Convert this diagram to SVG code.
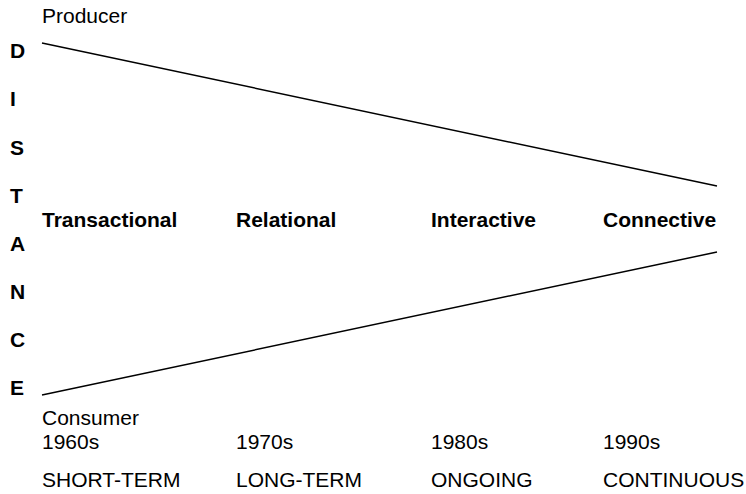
<svg xmlns="http://www.w3.org/2000/svg" width="746" height="494" viewBox="0 0 746 494">
<style>
text { font-family: "Liberation Sans", Arial, sans-serif; fill: #000; }
.r { font-size: 21px; }
.b { font-size: 21px; font-weight: bold; }
line { stroke: #000; stroke-width: 1.5; }
</style>
<rect width="746" height="494" fill="#fff"/>
<g id="connectors">
<line x1="42" y1="43" x2="717" y2="186"/>
<line x1="42" y1="395" x2="717" y2="252"/>
</g>
<g id="axis">
<text class="b" x="10" y="58">D</text>
<text class="b" x="10" y="106">I</text>
<text class="b" x="10" y="155">S</text>
<text class="b" x="10" y="203">T</text>
<text class="b" x="10" y="251">A</text>
<text class="b" x="10" y="299">N</text>
<text class="b" x="10" y="347">C</text>
<text class="b" x="10" y="395">E</text>
</g>
<g id="producer"><text class="r" x="42" y="23">Producer</text></g>
<g id="consumer"><text class="r" x="42" y="425">Consumer</text></g>
<g id="transactional">
<text class="b" x="42" y="227">Transactional</text>
<text class="r" x="42" y="449">1960s</text>
<text class="r" x="42" y="487">SHORT-TERM</text>
</g>
<g id="relational">
<text class="b" x="236" y="227">Relational</text>
<text class="r" x="236" y="449">1970s</text>
<text class="r" x="236" y="487">LONG-TERM</text>
</g>
<g id="interactive">
<text class="b" x="431" y="227">Interactive</text>
<text class="r" x="431" y="449">1980s</text>
<text class="r" x="431" y="487">ONGOING</text>
</g>
<g id="connective">
<text class="b" x="603" y="227">Connective</text>
<text class="r" x="603" y="449">1990s</text>
<text class="r" x="603" y="487">CONTINUOUS</text>
</g>
</svg>
